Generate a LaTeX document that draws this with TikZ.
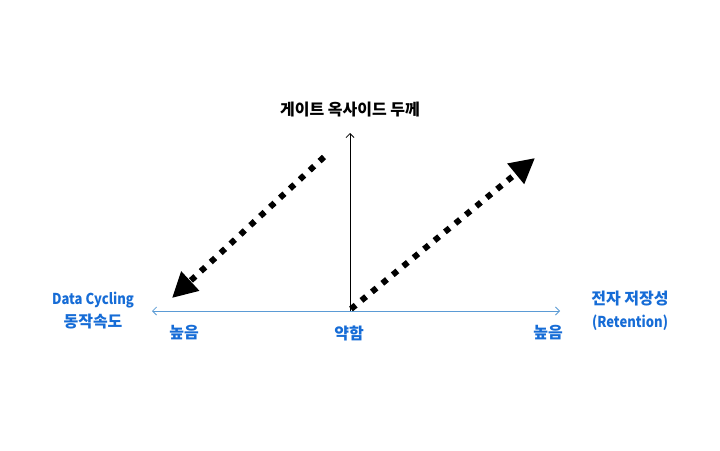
\documentclass[tikz,border=0pt]{standalone}
\usepackage{fontspec}
\newfontfamily\krfont{Noto Sans CJK KR}
\newfontfamily\latinfont{Noto Sans CJK KR}[FakeStretch=0.87]
\usepackage{tikz}
\usetikzlibrary{arrows.meta,positioning}

\definecolor{axisblue}{RGB}{91,155,213}
\definecolor{labelblue}{RGB}{22,108,214}

\tikzset{
  lbl/.style={font=\krfont\bfseries\fontsize{16}{23}\selectfont, align=center, text=labelblue, inner sep=0pt},
  dotarrow/.style={line width=6pt, dash pattern=on 6pt off 7.5pt, -{Triangle[length=25pt,width=25pt]}}
}
\newcommand{\latinpart}[1]{{\latinfont\bfseries\fontsize{15}{23}\selectfont #1}}

\begin{document}
\begin{tikzpicture}[x=1pt, y=-1pt]
    \useasboundingbox (0,0) rectangle (720,450);
    \coordinate (origin) at (350,311);
    \coordinate (lowend) at (152,311);
    \coordinate (highend) at (560,311);
    \coordinate (top) at (350,133);

    \node [font=\krfont\bfseries\fontsize{16}{19}\selectfont, inner sep=0pt] (title) at (350,110) {게이트 옥사이드 두께};
    \node [lbl] (speed) at (93,311) {\latinpart{Data Cycling}\\동작속도};
    \node [lbl] (retention) at (630,311) {전자 저장성\\\latinpart{(Retention)}};
    \node [lbl] (lowhigh) at (184,333) {높음};
    \node [lbl] (weak) at (349,333) {약함};
    \node [lbl] (righthigh) at (548,333) {높음};

    \draw [axisblue, line width=0.8pt, {Straight Barb[length=4pt,width=8pt]}-{Straight Barb[length=4pt,width=8pt]}] (lowend) -- (highend);
    \draw [black, line width=0.8pt, -{Straight Barb[length=4pt,width=8pt]}] (origin) -- (top);

    % dotted arrows
    \coordinate (ltail) at (324,157);
    \coordinate (lhead) at (172,298);
    \coordinate (rtail) at (351,309);
    \coordinate (rhead) at (535,158);
    \draw [dotarrow] (ltail) -- (lhead);
    \draw [dotarrow] (rtail) -- (rhead);
\end{tikzpicture}
\end{document}
